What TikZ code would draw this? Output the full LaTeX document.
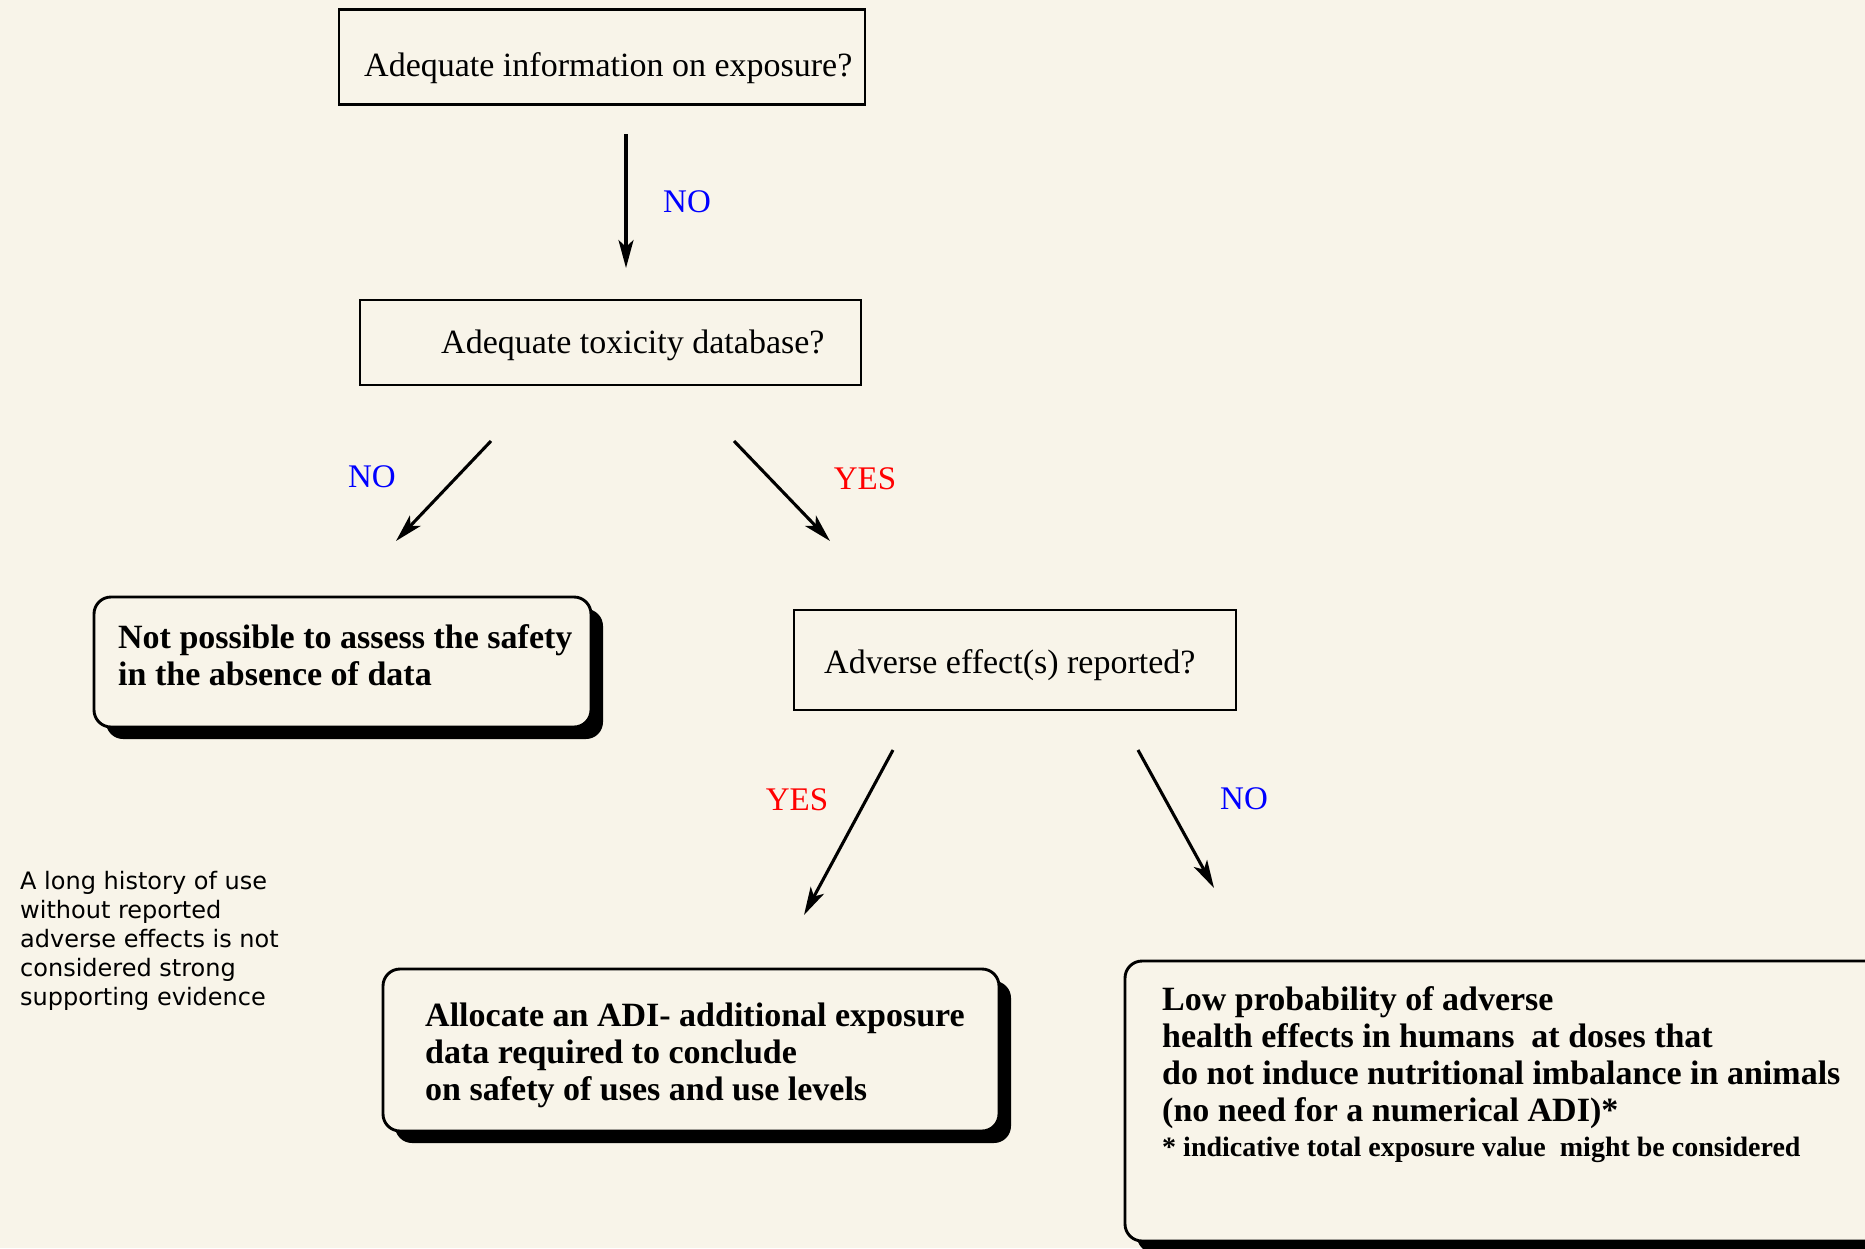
\documentclass[tikz,border=0pt]{standalone}
\usepackage{fontspec}
\setmainfont{Liberation Serif}
\newfontfamily\sidefont{DejaVu Sans}
\usetikzlibrary{arrows.meta}
\definecolor{bg}{RGB}{248,244,233}
\definecolor{noblue}{RGB}{0,0,255}
\definecolor{yesred}{RGB}{255,0,0}
\begin{document}
\begin{tikzpicture}[x=1pt,y=-1pt,
  qbox/.style={draw=black, line width=2.8pt, rectangle, inner sep=0pt},
  rbox/.style={draw=black, line width=2.9pt, rounded corners=17pt, fill=bg, rectangle, inner sep=0pt},
  shadowbox/.style={fill=black, rounded corners=17pt, rectangle, inner sep=0pt},
  qtext/.style={font=\fontsize{34}{38}\selectfont, anchor=base west, inner sep=0pt},
  btext/.style={font=\fontsize{34}{37}\selectfont\bfseries, anchor=north west, inner sep=0pt, align=left},
  ftext/.style={font=\fontsize{28}{30}\selectfont\bfseries, anchor=base west, inner sep=0pt},
  sidetext/.style={font=\fontsize{24}{29}\selectfont\sidefont, anchor=north west, inner sep=0pt, align=left},
  nolab/.style={font=\fontsize{33}{38}\selectfont, text=noblue, inner sep=0pt},
  yeslab/.style={font=\fontsize{33}{38}\selectfont, text=yesred, inner sep=0pt},
  arr/.style={line width=3.1pt, -{Stealth[length=28pt, width=15pt, inset=7pt]}}
]
\clip (0,0) rectangle (1865,1248);
\fill[bg] (0,0) rectangle (1865,1248);

% question boxes
\node[qbox, minimum width=526pt, minimum height=95pt] (q1) at (602,57) {};
\node[qtext] (q1t) at (364,76) {Adequate information on exposure?};
\node[qbox, minimum width=501pt, minimum height=85pt] (q2) at (610.5,342.5) {};
\node[qtext] (q2t) at (441,353) {Adequate toxicity database?};
\node[qbox, minimum width=442pt, minimum height=100pt] (q4) at (1015,660) {};
\node[qtext] (q4t) at (824,673) {Adverse effect(s) reported?};

% outcome boxes with shadows
\node[shadowbox, minimum width=497pt, minimum height=130pt] (b3s) at (354.5,674) {};
\node[rbox, minimum width=497pt, minimum height=130pt] (b3) at (342.5,662) {};
\node[btext] (b3t) at (118,624) {Not possible to assess the safety\\in the absence of data};

\node[shadowbox, minimum width=616pt, minimum height=162pt] (b5s) at (703,1062) {};
\node[rbox, minimum width=616pt, minimum height=162pt] (b5) at (691,1050) {};
\node[btext] (b5t) at (425,1003) {Allocate an ADI- additional exposure\\data required to conclude\\on safety of uses and use levels};

\node[shadowbox, minimum width=775pt, minimum height=280pt] (b6s) at (1524.5,1113) {};
\node[rbox, minimum width=775pt, minimum height=280pt] (b6) at (1512.5,1101) {};
\node[btext] (b6t) at (1162,986) {Low probability of adverse\\health effects in humans\ \ at doses that\\do not induce nutritional imbalance in animals\\(no need for a numerical ADI)*};
\node[ftext] (b6f) at (1162,1156) {* indicative total exposure value\ \ might be considered};

% side note
\node[sidetext] (note) at (20,871) {A long history of use\\without reported\\adverse effects is not\\considered strong\\supporting evidence};

% arrows
\coordinate (a1s) at (626,134); \coordinate (a1e) at (626,268);
\coordinate (a2s) at (491,441); \coordinate (a2e) at (396,541);
\coordinate (a3s) at (734,441); \coordinate (a3e) at (830,541);
\coordinate (a4s) at (893,750); \coordinate (a4e) at (804,915);
\coordinate (a5s) at (1138,750); \coordinate (a5e) at (1214,888);
\draw[arr] (a1s) -- (a1e);
\draw[arr] (a2s) -- (a2e);
\draw[arr] (a3s) -- (a3e);
\draw[arr] (a4s) -- (a4e);
\draw[arr] (a5s) -- (a5e);

% labels
\node[nolab] (l1) at (687,202) {NO};
\node[nolab] (l2) at (372,477) {NO};
\node[yeslab] (l3) at (865,479) {YES};
\node[yeslab] (l4) at (797,800) {YES};
\node[nolab] (l5) at (1244,799) {NO};
\end{tikzpicture}
\end{document}
